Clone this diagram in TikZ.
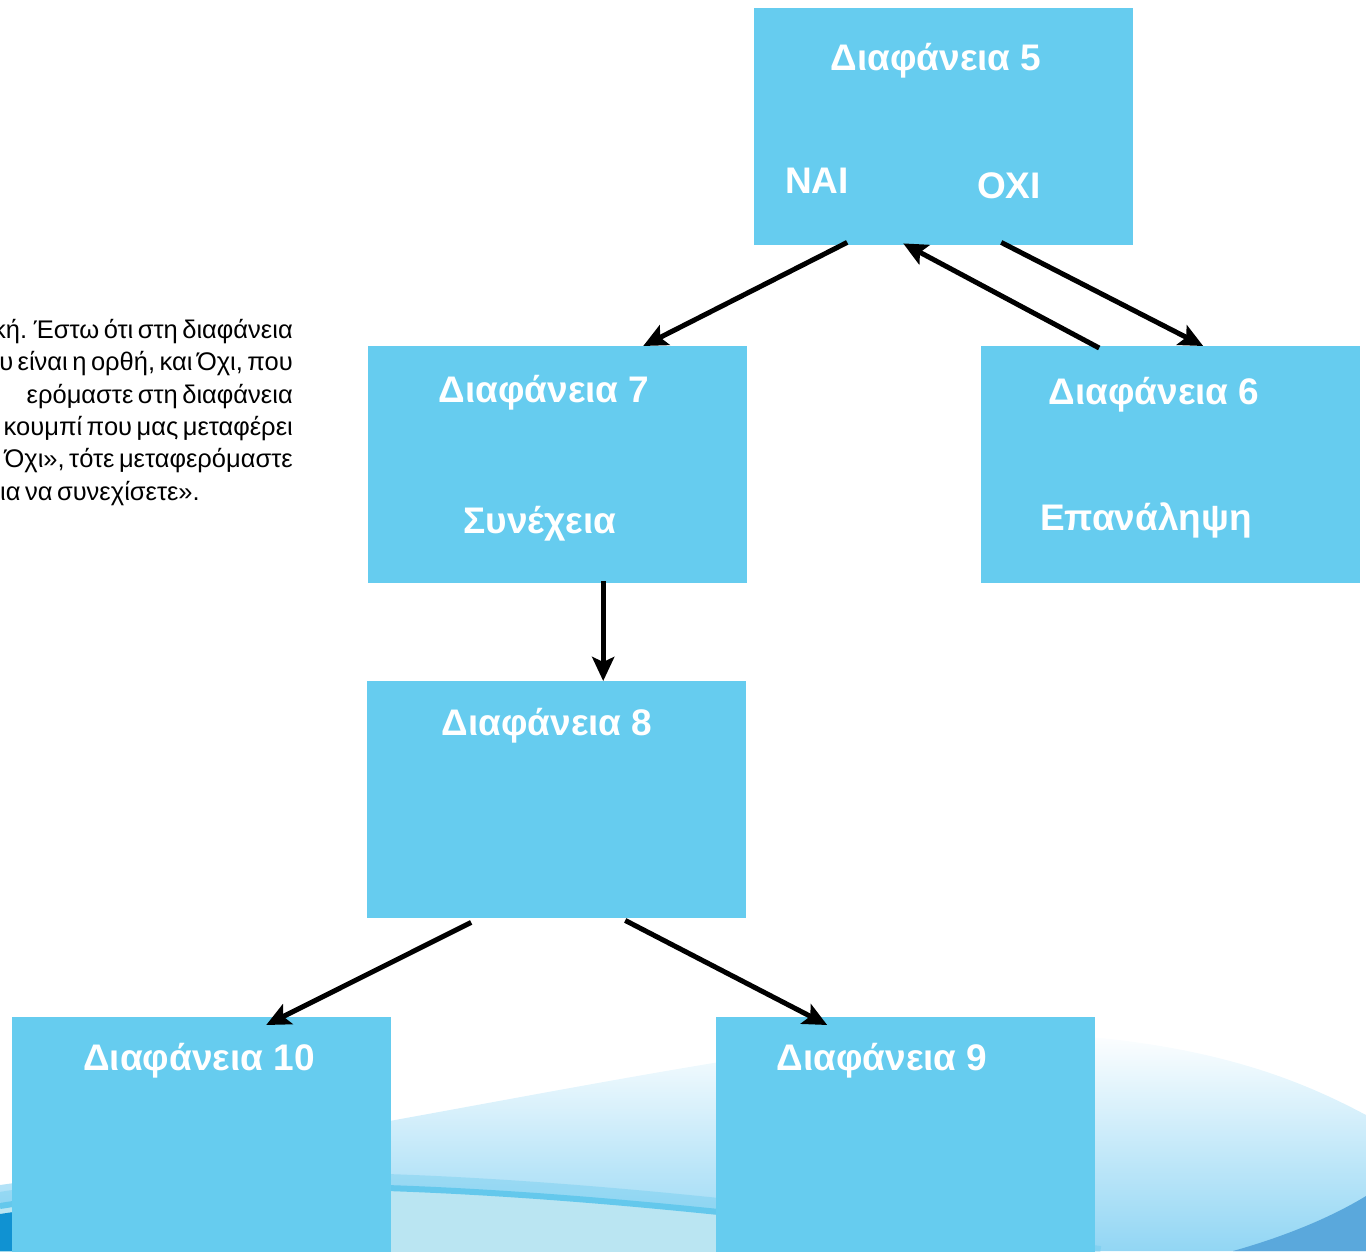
\documentclass[tikz,border=0pt]{standalone}
\usepackage{fontspec}
\setmainfont{Liberation Sans}
\usetikzlibrary{arrows.meta}
\definecolor{slideblue}{RGB}{102,204,239}
\definecolor{wavelight}{RGB}{186,229,242}
\definecolor{wavemist}{RGB}{146,214,244}
\definecolor{waveline}{RGB}{100,200,236}
\definecolor{wavedeep}{RGB}{16,146,210}
\definecolor{wavecorner}{RGB}{90,168,220}
\newcommand\tightwords{\spaceskip=4.5pt\relax}

\begin{document}
\begin{tikzpicture}[x=1pt, y=-1pt,
	slide/.style={fill=slideblue, minimum width=379pt, minimum height=237pt, anchor=north west, inner sep=0pt},
	title/.style={font=\fontsize{37}{40}\selectfont\bfseries, text=white, anchor=base, inner sep=0pt},
	para/.style={font=\fontsize{25.5}{30}\selectfont, execute at begin node=\tightwords, anchor=base east, inner sep=0pt},
	arr/.style={line width=5pt, -{Stealth[length=24pt, width=22pt, inset=5pt]}}]
	\useasboundingbox (0,0) rectangle (1366,1251);
	\shade[top color=white, bottom color=wavemist] (0,1185) .. controls (400,1130) and (800,1030) .. (1000,1032) .. controls (1200,1036) and (1300,1080) .. (1366,1115) -- (1366,1251) -- (0,1251) -- cycle;
	\fill[wavelight] (0,1208) .. controls (250,1168) and (600,1190) .. (1100,1262) -- (0,1262) -- cycle;
	\draw[waveline, line width=16pt, opacity=0.35] (0,1200) .. controls (250,1160) and (600,1182) .. (1100,1254);
	\draw[waveline, line width=6pt] (0,1206) .. controls (250,1166) and (600,1188) .. (1100,1260);
	\fill[wavedeep] (0,1214) -- (20,1211) -- (20,1251) -- (0,1251) -- cycle;
	\fill[wavecorner] (1233,1251) .. controls (1290,1235) and (1335,1215) .. (1366,1196) -- (1366,1251) -- cycle;
	\node[para] (p1) at (293,338) {κή. Έστω ότι στη διαφάνεια};
	\node[para] (p2) at (293,370) {υ είναι η ορθή, και Όχι, που};
	\node[para] (p3) at (293,403) {ερόμαστε στη διαφάνεια};
	\node[para] (p4) at (293,435) {κουμπί που μας μεταφέρει};
	\node[para] (p5) at (293,467) {Όχι», τότε μεταφερόμαστε};
	\node[para, anchor=base west] (p6) at (0,500) {ια να συνεχίσετε».};
	\node[slide] (d5) at (754,8) {};
	\node[slide] (d7) at (368,346) {};
	\node[slide] (d6) at (981,346) {};
	\node[slide] (d8) at (367,681) {};
	\node[slide] (d10) at (12,1017) {};
	\node[slide] (d9) at (716,1017) {};
	\node[title] (t5) at (936,70) {Διαφάνεια 5};
	\node[title] (yes) at (817,193) {ΝΑΙ};
	\node[title] (no) at (1009,198) {ΟΧΙ};
	\node[title] (t7) at (544,402) {Διαφάνεια 7};
	\node[title] (cont) at (540,533) {Συνέχεια};
	\node[title] (t6) at (1154,404) {Διαφάνεια 6};
	\node[title] (again) at (1146,530) {Επανάληψη};
	\node[title] (t8) at (547,735) {Διαφάνεια 8};
	\node[title] (t10) at (199,1070) {Διαφάνεια 10};
	\node[title] (t9) at (882,1070) {Διαφάνεια 9};
	\draw[arr] ([xshift=-96.5pt, yshift=3pt]d5.south) -- ([xshift=85.5pt]d7.north);
	\draw[arr] ([xshift=-71.5pt, yshift=-2pt]d6.north) -- ([xshift=-40.5pt, yshift=2pt]d5.south);
	\draw[arr] ([xshift=57.5pt, yshift=3pt]d5.south) -- ([xshift=32.5pt]d6.north);
	\draw[arr] ([xshift=45.5pt, yshift=2pt]d7.south) -- ([xshift=46.5pt]d8.north);
	\draw[arr] ([xshift=-85.5pt, yshift=-4pt]d8.south) -- ([xshift=64.5pt, yshift=-8pt]d10.north);
	\draw[arr] ([xshift=68.5pt, yshift=-2pt]d8.south) -- ([xshift=-78.5pt, yshift=-8pt]d9.north);
\end{tikzpicture}
\end{document}
